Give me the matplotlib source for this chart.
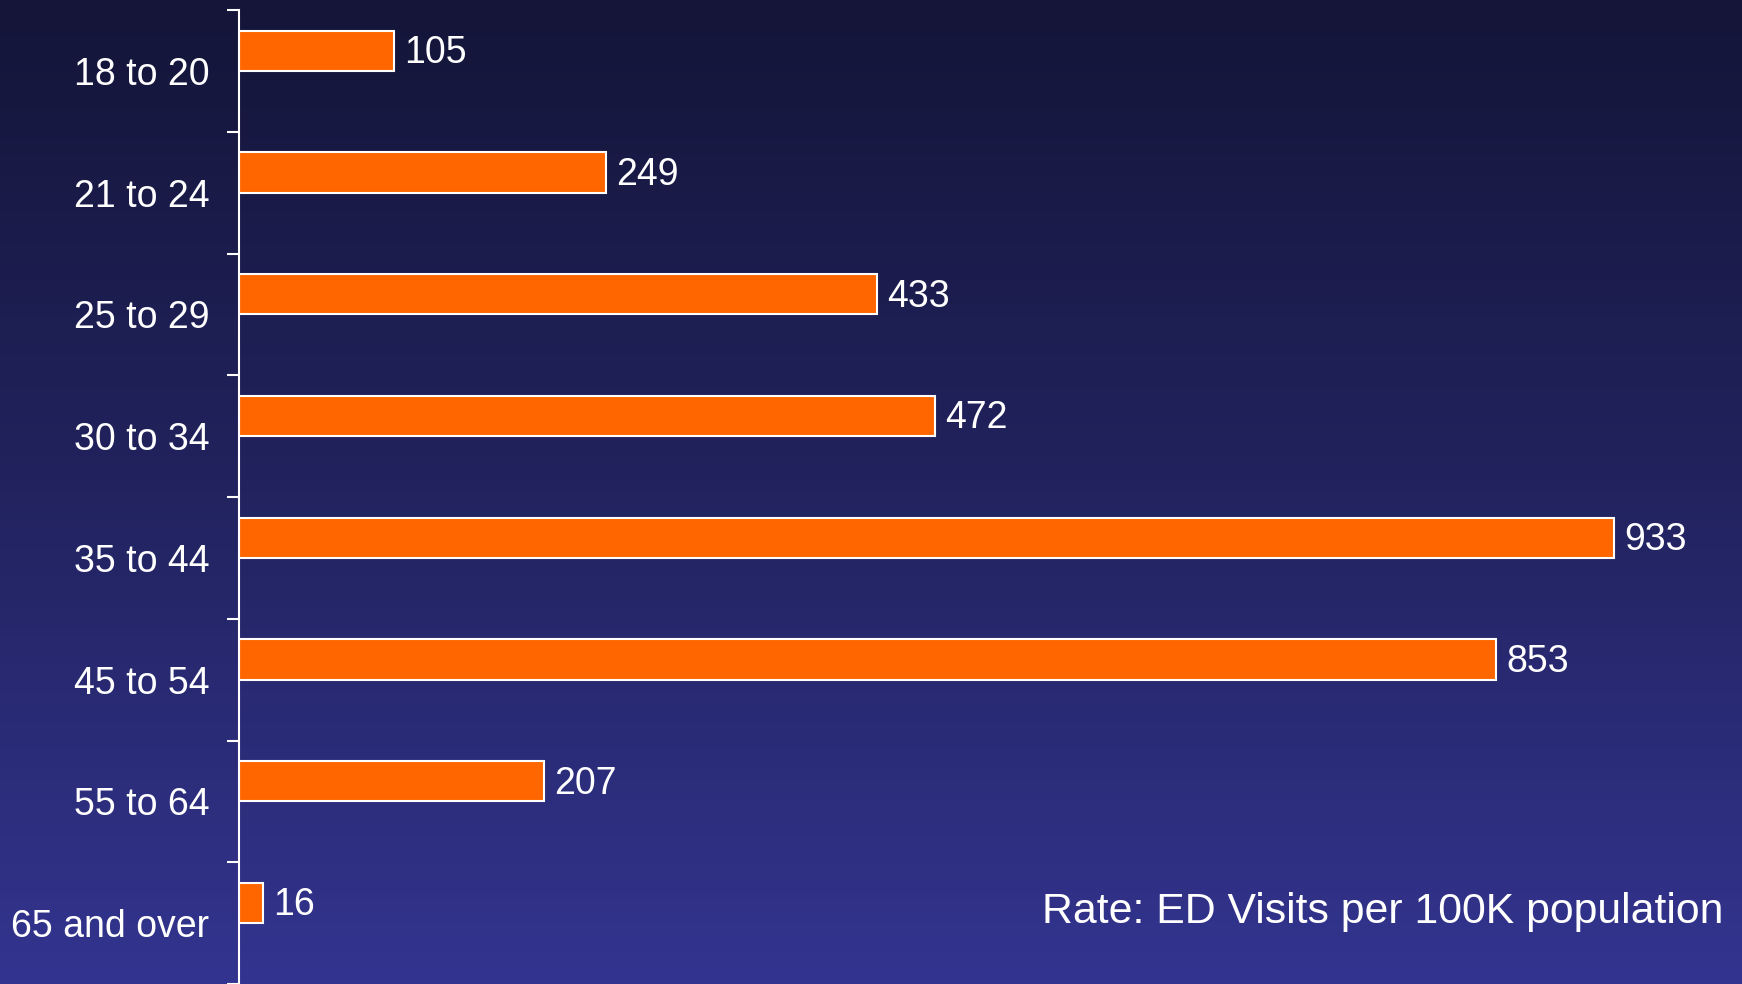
import numpy as np
import matplotlib.pyplot as plt
from matplotlib.colors import LinearSegmentedColormap

plt.rcParams['font.family'] = ['Liberation Sans', 'DejaVu Sans']

age_groups = ['18 to 20', '21 to 24', '25 to 29', '30 to 34',
              '35 to 44', '45 to 54', '55 to 64', '65 and over']
rates = [105, 249, 433, 472, 933, 853, 207, 16]
note = 'Rate: ED Visits per 100K population'


def main():
    fig = plt.figure(figsize=(17.42, 9.84), dpi=100)

    # gradient background, dark navy at top to blue-violet at bottom
    bg = fig.add_axes([0, 0, 1, 1], zorder=0)
    cmap = LinearSegmentedColormap.from_list('bg', ['#141538', '#22235f', '#33348f'])
    bg.imshow(np.linspace(0, 1, 256).reshape(-1, 1), aspect='auto', cmap=cmap,
              extent=[0, 1, 0, 1], origin='upper')
    bg.axis('off')

    ax = fig.add_axes([239 / 1742, 0, (1713 - 239) / 1742, 974 / 984], zorder=1)
    ax.patch.set_alpha(0)

    n = len(rates)
    y = np.arange(n)
    off = -0.165
    ax.barh(y + off, rates, height=0.33, color='#ff6600',
            edgecolor='white', linewidth=1.5)
    for yi, v in zip(y, rates):
        ax.text(v + 7, yi + off + 0.02, str(v), va='center', ha='left',
                fontsize=27, color='white')

    ax.set_xlim(0, 1000)
    ax.set_ylim(n - 0.5, -0.5)

    # tick marks between categories, labels at category centres
    ax.set_yticks(np.arange(n + 1) - 0.5)
    ax.set_yticklabels([])
    ax.set_yticks(y, minor=True)
    ax.set_yticklabels(age_groups, minor=True)
    ax.tick_params(axis='y', which='major', length=8.6, width=1.5,
                   color='white', direction='out')
    ax.tick_params(axis='y', which='minor', length=0, pad=21.5,
                   labelsize=27, labelcolor='white')
    ax.set_xticks([])

    for s in ['top', 'right', 'bottom']:
        ax.spines[s].set_visible(False)
    ax.spines['left'].set_color('white')
    ax.spines['left'].set_linewidth(1.5)

    fig.text(1723 / 1742, 1 - 923 / 984, note, ha='right', va='baseline',
             fontsize=30.8, color='white')

    fig.savefig('out.png', dpi=100)


if __name__ == '__main__':
    main()
